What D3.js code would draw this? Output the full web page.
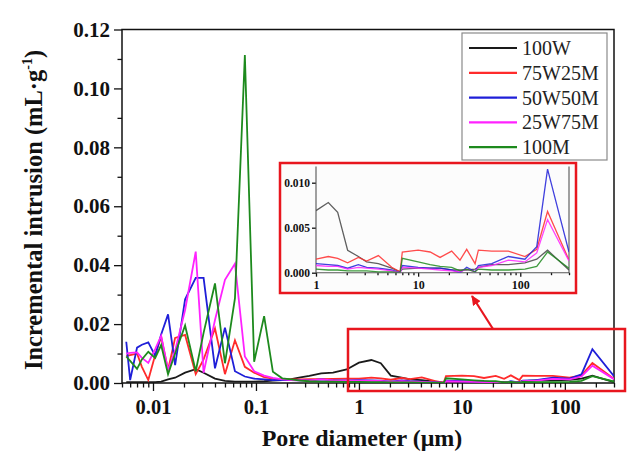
<!DOCTYPE html>
<html>
<head>
<meta charset="utf-8">
<script src="https://cdn.jsdelivr.net/npm/d3@7"></script>
<style>
  body { margin: 0; background: #fff; }
  svg { display: block; }
  text { font-family: "Liberation Serif", "Times New Roman", serif; }
</style>
</head>
<body>
<div id="chart"></div>
<script>
// pore diameter (µm), shared by all five mixes
const diameter = [
  0.0055, 0.006, 0.007, 0.0078, 0.009, 0.0105, 0.012, 0.014, 0.0164, 0.0205,
  0.026, 0.031, 0.040, 0.050, 0.0625, 0.078, 0.096, 0.12, 0.146, 0.18,
  0.22, 0.27, 0.33, 0.43, 0.56, 0.76,
  1, 1.32, 1.63, 2.04, 2.6, 3.13, 4.08, 5.51, 6.65, 7.0,
  10, 13.1, 16.4, 21.3, 25.7, 29.9, 36.1, 38.9, 52.6, 76.5,
  111, 145, 185, 300
];

// incremental intrusion (mL/g)
const w100 = [
  0.0003, 0.0003, 0.0003, 0.0003, 0.0003, 0.0003, 0.0005, 0.0012, 0.0018, 0.0035,
  0.0047, 0.0035, 0.0015, 0.0007, 0.0005, 0.0005, 0.0005, 0.0006, 0.0008, 0.0010,
  0.0013, 0.0019, 0.0024, 0.0033, 0.0035, 0.0046,
  0.0069, 0.0078, 0.0067, 0.0025, 0.0018, 0.0012, 0.0010, 0.0005, 0.0001, 0.0004,
  0.0005, 0.0005, 0.0005, 0.0003, 0.0003, 0.0003, 0.0004, 0.0006, 0.0009, 0.0009,
  0.0011, 0.0015, 0.0025, 0.0003
];
const w75m25 = [
  0.0092, 0.0095, 0.0100, 0.0055, 0.0010, 0.0095, 0.0157, 0.0044, 0.0153, 0.0163,
  0.0030, 0.0080, 0.0185, 0.0030, 0.0145, 0.0055, 0.0035, 0.0020, 0.0015, 0.0012,
  0.0012, 0.0012, 0.0013, 0.0013, 0.0014, 0.0015,
  0.0015, 0.0018, 0.0016, 0.0011, 0.0017, 0.0013, 0.0019, 0.0006, 0.0001, 0.0023,
  0.0025, 0.0023, 0.0017, 0.0024, 0.0014, 0.0026, 0.0010, 0.0025, 0.0024, 0.0024,
  0.0018, 0.0026, 0.0068, 0.0014
];
const w50m50 = [
  0.0140, 0.0010, 0.0120, 0.0130, 0.0138, 0.0092, 0.0165, 0.0233, 0.0061, 0.0284,
  0.0357, 0.0357, 0.0050, 0.0188, 0.0040, 0.0022, 0.0015, 0.0012, 0.0010, 0.0010,
  0.0010, 0.0009, 0.0009, 0.0012, 0.0009, 0.0009,
  0.0010, 0.0009, 0.0008, 0.0005, 0.0009, 0.0006, 0.0005, 0.0003, 0.0000, 0.0008,
  0.0006, 0.0005, 0.0005, 0.0003, 0.0000, 0.0006, 0.0001, 0.0008, 0.0010, 0.0018,
  0.0015, 0.0029, 0.0115, 0.0023
];
const w25m75 = [
  0.0100, 0.0102, 0.0104, 0.0085, 0.0068, 0.0115, 0.0160, 0.0044, 0.0110, 0.0248,
  0.0446, 0.0035, 0.0214, 0.0350, 0.0405, 0.0090, 0.0040, 0.0025, 0.0017, 0.0012,
  0.0010, 0.0009, 0.0009, 0.0012, 0.0009, 0.0008,
  0.0008, 0.0007, 0.0007, 0.0004, 0.0006, 0.0005, 0.0004, 0.0002, 0.0000, 0.0006,
  0.0005, 0.0004, 0.0003, 0.0002, 0.0001, 0.0004, 0.0001, 0.0006, 0.0008, 0.0014,
  0.0012, 0.0022, 0.0059, 0.0013
];
const m100 = [
  0.0090, 0.0075, 0.0048, 0.0080, 0.0106, 0.0085, 0.0129, 0.0030, 0.0100, 0.0195,
  0.0040, 0.0170, 0.0338, 0.0067, 0.0287, 0.1113, 0.0072, 0.0227, 0.0038, 0.0016,
  0.0012, 0.0008, 0.0006, 0.0005, 0.0005, 0.0004,
  0.0004, 0.0003, 0.0003, 0.0002, 0.0002, 0.0002, 0.0001, 0.0001, 0.0000, 0.0016,
  0.0012, 0.0009, 0.0007, 0.0006, 0.0002, 0.0004, 0.0001, 0.0004, 0.0003, 0.0003,
  0.0004, 0.0007, 0.0023, 0.0005
];

const seriesNames = ["100W", "75W25M", "50W50M", "25W75M", "100M"];
const seriesValues = [w100, w75m25, w50m50, w25m75, m100];
const seriesColors = ["#1a1a1a", "#ff2b2b", "#1f1fd8", "#ff22ff", "#1d8a1d"];

const yTicks = [0, 0.02, 0.04, 0.06, 0.08, 0.10, 0.12];
const xTicks = [0.01, 0.1, 1, 10, 100];
const insetYTicks = [0, 0.005, 0.010];
const insetXTicks = [1, 10, 100];

const width = 635;
const height = 461;

const svg = d3.select("#chart")
  .append("svg")
  .attr("width", width)
  .attr("height", height);

svg.append("rect").attr("width", width).attr("height", height).attr("fill", "#fff");

// main plot area
const plot = { left: 122, right: 614, top: 29.5, bottom: 383 };

const x = d3.scaleLog().domain([0.005, 300]).range([plot.left, plot.right]);
const y = d3.scaleLinear().domain([0, 0.12]).range([plot.bottom, plot.top]);

const rows = diameter.map((d, i) => ({ d, v: seriesValues.map(s => s[i]) }));

function styleAxis(g, size) {
  g.select(".domain").remove();
  g.selectAll("line").attr("stroke", "#111").attr("stroke-width", 1.3);
  g.selectAll("text")
    .style("font-size", size + "px")
    .style("font-weight", "bold")
    .attr("fill", "#111");
}

// minor ticks
const xMinor = x.ticks().filter(t => !xTicks.some(m => Math.abs(m - t) < 1e-9));
svg.append("g")
  .attr("transform", `translate(0,${plot.bottom})`)
  .call(d3.axisBottom(x).tickValues(xMinor).tickSize(4.5).tickFormat(""))
  .call(g => styleAxis(g, 20));

const yMinor = d3.range(0.01, 0.12, 0.02);
svg.append("g")
  .attr("transform", `translate(${plot.left},0)`)
  .call(d3.axisLeft(y).tickValues(yMinor).tickSize(4.5).tickFormat(""))
  .call(g => styleAxis(g, 20));

// major ticks and labels
svg.append("g")
  .attr("transform", `translate(0,${plot.bottom})`)
  .call(d3.axisBottom(x).tickValues(xTicks).tickSize(8).tickPadding(8).tickFormat(d => String(d)))
  .call(g => styleAxis(g, 20.5));

svg.append("g")
  .attr("transform", `translate(${plot.left},0)`)
  .call(d3.axisLeft(y).tickValues(yTicks).tickSize(8).tickPadding(4).tickFormat(d3.format(".2f")))
  .call(g => styleAxis(g, 21));

// frame
svg.append("rect")
  .attr("x", plot.left)
  .attr("y", plot.top)
  .attr("width", plot.right - plot.left)
  .attr("height", plot.bottom - plot.top)
  .attr("fill", "none")
  .attr("stroke", "#111")
  .attr("stroke-width", 1.5);

svg.append("clipPath").attr("id", "main-clip")
  .append("rect")
  .attr("x", plot.left).attr("y", plot.top)
  .attr("width", plot.right - plot.left).attr("height", plot.bottom - plot.top);

const mainLines = svg.append("g").attr("clip-path", "url(#main-clip)");
seriesNames.forEach((name, k) => {
  const line = d3.line().x(r => x(r.d)).y(r => y(r.v[k]));
  mainLines.append("path")
    .datum(rows)
    .attr("d", line)
    .attr("fill", "none")
    .attr("stroke", seriesColors[k])
    .attr("stroke-width", 1.8)
    .attr("stroke-linejoin", "miter");
});

// axis titles
svg.append("text")
  .attr("transform", "translate(42,210) rotate(-90)")
  .attr("text-anchor", "middle")
  .style("font-size", "24.5px")
  .style("font-weight", "bold")
  .attr("fill", "#111")
  .call(t => {
    t.append("tspan").text("Incremental intrusion (mL·g");
    t.append("tspan").attr("dy", -10).style("font-size", "14px").text("-1");
    t.append("tspan").attr("dy", 10).text(")");
  });

svg.append("text")
  .attr("x", 362)
  .attr("y", 446)
  .attr("text-anchor", "middle")
  .style("font-size", "24px")
  .style("font-weight", "bold")
  .attr("fill", "#111")
  .text("Pore diameter (μm)");

// legend
const legend = svg.append("g");
legend.append("rect")
  .attr("x", 462).attr("y", 33)
  .attr("width", 145).attr("height", 127)
  .attr("fill", "#fff")
  .attr("stroke", "#8a8a8a")
  .attr("stroke-width", 1.2);

seriesNames.forEach((name, k) => {
  const ly = 48 + k * 24.8;
  legend.append("line")
    .attr("x1", 469).attr("x2", 517)
    .attr("y1", ly).attr("y2", ly)
    .attr("stroke", seriesColors[k])
    .attr("stroke-width", 2.2);
  legend.append("text")
    .attr("x", 522).attr("y", ly)
    .attr("dy", "0.35em")
    .style("font-size", "20px")
    .attr("fill", "#222")
    .text(name);
});

// zoomed region marker and arrow
const red = "#e8161e";
svg.append("rect")
  .attr("x", 348).attr("y", 329)
  .attr("width", 277).attr("height", 62)
  .attr("fill", "none")
  .attr("stroke", red)
  .attr("stroke-width", 2.5);

svg.append("defs").append("marker")
  .attr("id", "arrow")
  .attr("markerUnits", "userSpaceOnUse")
  .attr("markerWidth", 10).attr("markerHeight", 9)
  .attr("refX", 9).attr("refY", 4.5)
  .attr("orient", "auto")
  .append("path")
  .attr("d", "M0,0 L10,4.5 L0,9 Z")
  .attr("fill", red);

svg.append("line")
  .attr("x1", 493).attr("y1", 329)
  .attr("x2", 472).attr("y2", 296)
  .attr("stroke", red)
  .attr("stroke-width", 2.2)
  .attr("marker-end", "url(#arrow)");

// inset: 1–300 µm enlarged
svg.append("rect")
  .attr("x", 280).attr("y", 163)
  .attr("width", 296).attr("height", 130)
  .attr("fill", "#fcfcfc")
  .attr("stroke", red)
  .attr("stroke-width", 2.5);

const inset = { left: 316, right: 569, top: 166.5, bottom: 272.7 };
const ix = d3.scaleLog().domain([1, 300]).range([inset.left, inset.right]);
const iy = d3.scaleLinear().domain([0, 0.0118]).range([inset.bottom, inset.top]);

const ixMinor = ix.ticks().filter(t => !insetXTicks.some(m => Math.abs(m - t) < 1e-9));
svg.append("g")
  .attr("transform", `translate(0,${inset.bottom})`)
  .call(d3.axisBottom(ix).tickValues(ixMinor).tickSize(2.5).tickFormat(""))
  .call(g => styleAxis(g, 12));
svg.append("g")
  .attr("transform", `translate(0,${inset.bottom})`)
  .call(d3.axisBottom(ix).tickValues(insetXTicks).tickSize(4).tickPadding(4).tickFormat(d => String(d)))
  .call(g => styleAxis(g, 12));
svg.append("g")
  .attr("transform", `translate(${inset.left},0)`)
  .call(d3.axisLeft(iy).tickValues(insetYTicks).tickSize(4).tickPadding(2).tickFormat(d3.format(".3f")))
  .call(g => styleAxis(g, 11.5));

svg.append("path")
  .attr("d", `M${inset.left},${inset.top}V${inset.bottom}H${inset.right}V${inset.top}`)
  .attr("fill", "none")
  .attr("stroke", "#555")
  .attr("stroke-width", 1.1);

svg.append("clipPath").attr("id", "inset-clip")
  .append("rect")
  .attr("x", inset.left).attr("y", inset.top - 2)
  .attr("width", inset.right - inset.left).attr("height", inset.bottom - inset.top + 2);

const insetRows = rows.filter(r => r.d >= 1);
const insetLines = svg.append("g").attr("clip-path", "url(#inset-clip)");
seriesNames.forEach((name, k) => {
  const line = d3.line().x(r => ix(r.d)).y(r => iy(r.v[k]));
  insetLines.append("path")
    .datum(insetRows)
    .attr("d", line)
    .attr("fill", "none")
    .attr("stroke", k === 0 ? "#444" : seriesColors[k])
    .attr("stroke-opacity", 0.85)
    .attr("stroke-width", 1.3);
});
</script>
</body>
</html>
